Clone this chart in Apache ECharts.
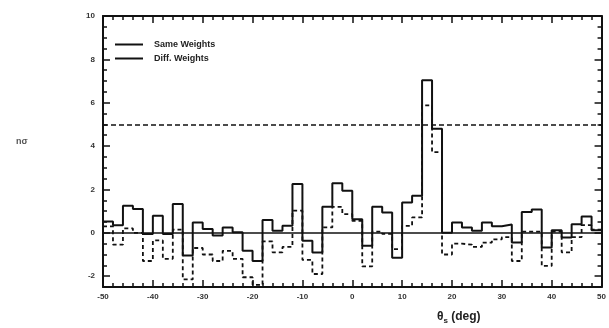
<!DOCTYPE html>
<html>
<head>
<meta charset="utf-8">
<script src="https://cdn.jsdelivr.net/npm/echarts@6/dist/echarts.min.js"></script>
<style>
  html, body { margin: 0; padding: 0; background: #fff; }
  #chart { width: 609px; height: 328px; }
</style>
</head>
<body>
<div id="chart"></div>
<script>
// Left edges of the 2-degree bins, plus the final right edge
const binEdges = [
  -50, -48, -46, -44, -42, -40, -38, -36, -34, -32,
  -30, -28, -26, -24, -22, -20, -18, -16, -14, -12,
  -10, -8, -6, -4, -2, 0, 2, 4, 6, 8,
  10, 12, 14, 16, 18, 20, 22, 24, 26, 28,
  30, 32, 34, 36, 38, 40, 42, 44, 46, 48,
  50
];

// Significance per bin, same weights
const sameWeights = [
  0.52, 0.35, 1.25, 1.10, -0.05, 0.79, -0.05, 1.33, -1.05, 0.48,
  0.18, -0.12, 0.25, 0.02, -0.83, -1.30, 0.59, 0.09, 0.32, 2.25,
  -0.37, -0.91, 1.20, 2.28, 1.94, 0.63, -0.60, 1.20, 0.94, -1.15,
  1.40, 1.71, 7.04, 4.80, 0.00, 0.48, 0.25, 0.10, 0.48, 0.30,
  0.38, -0.45, 0.96, 1.08, -0.68, 0.12, -0.22, 0.40, 0.75, 0.12
];

// Significance per bin, different weights
const diffWeights = [
  0.30, -0.55, 0.20, 0.00, -1.30, -0.35, -1.20, 0.15, -2.15, -0.70,
  -1.00, -1.30, -0.83, -1.20, -2.05, -2.40, -0.40, -0.90, -0.65, 1.02,
  -1.25, -1.90, 0.25, 1.20, 0.86, 0.55, -1.55, 0.05, -0.05, -0.75,
  0.32, 0.71, 5.88, 3.72, -1.00, -0.50, -0.55, -0.65, -0.45, -0.30,
  -0.20, -1.30, 0.05, 0.05, -1.53, 0.05, -0.90, -0.20, 0.35, 0.15
];

const seriesNames = ['Same Weights', 'Diff. Weights'];
const yMajorTicks = [-2, 0, 2, 4, 6, 8, 10];
const referenceLevels = [0, 5];

// step 'end': each bin's value is held from its left edge to the next edge
function toSteps(values) {
  const pts = values.map((v, i) => [binEdges[i], v]);
  pts.push([binEdges[binEdges.length - 1], values[values.length - 1]]);
  return pts;
}

const FONT = 'Liberation Sans, Arial, sans-serif';
const INK = '#111';

const xBase = {
  type: 'value', min: -50, max: 50, interval: 10,
  axisLine: { show: true, onZero: false, lineStyle: { color: INK, width: 2 } },
  axisTick: { show: true, inside: true, length: 7, lineStyle: { color: INK, width: 1.5 } },
  minorTick: { show: true, splitNumber: 5, length: 4, lineStyle: { color: INK, width: 1.5 } },
  splitLine: { show: false },
  minorSplitLine: { show: false }
};

const yMajor = (pos, labels) => ({
  type: 'value', min: -2.5, max: 10, position: pos,
  axisLine: { show: true, onZero: false, lineStyle: { color: INK, width: 2 } },
  axisTick: { show: true, inside: true, length: 7, customValues: yMajorTicks,
              lineStyle: { color: INK, width: 1.5 } },
  axisLabel: { show: labels, customValues: yMajorTicks, margin: 8,
               fontSize: 8, fontWeight: 'bold', color: '#333', fontFamily: FONT },
  splitLine: { show: false }
});

const yMinor = (pos) => ({
  type: 'value', min: -2.5, max: 10, interval: 0.5, position: pos,
  axisLine: { show: false, onZero: false },
  axisTick: { show: true, inside: true, length: 4, lineStyle: { color: INK, width: 1.5 } },
  axisLabel: { show: false },
  splitLine: { show: false }
});

const chart = echarts.init(document.getElementById('chart'), null, { renderer: 'canvas' });

chart.setOption({
  animation: false,
  backgroundColor: '#fff',
  grid: { left: 103, top: 16, width: 500, height: 271, containLabel: false },
  xAxis: [
    Object.assign({}, xBase, {
      position: 'bottom',
      axisLabel: { show: true, margin: 6, fontSize: 8, fontWeight: 'bold', color: '#333', fontFamily: FONT }
    }),
    Object.assign({}, xBase, { position: 'top', axisLabel: { show: false } })
  ],
  yAxis: [yMajor('left', true), yMinor('left'), yMajor('right', false), yMinor('right')],
  legend: {
    orient: 'vertical', left: 110, top: 35,
    icon: 'rect', itemWidth: 28, itemHeight: 2, itemGap: 5,
    textStyle: { fontSize: 9, fontWeight: 'bold', color: '#222', fontFamily: FONT, padding: [0, 0, 0, 6] },
    data: seriesNames
  },
  series: [
    {
      name: seriesNames[0], type: 'line', step: 'end',
      xAxisIndex: 0, yAxisIndex: 0,
      data: toSteps(sameWeights), showSymbol: false, symbol: 'none',
      color: INK,
      lineStyle: { color: INK, width: 2 },
      z: 3,
      markLine: {
        silent: true, symbol: 'none', label: { show: false },
        data: [
          { yAxis: referenceLevels[0], lineStyle: { type: 'solid', color: INK, width: 1.5 } },
          { yAxis: referenceLevels[1], lineStyle: { type: [5, 3], color: INK, width: 1.5 } }
        ]
      }
    },
    {
      name: seriesNames[1], type: 'line', step: 'end',
      xAxisIndex: 0, yAxisIndex: 0,
      data: toSteps(diffWeights), showSymbol: false, symbol: 'none',
      color: INK,
      lineStyle: { color: INK, width: 1.8, type: [4, 3] },
      z: 2
    }
  ],
  graphic: [
    {
      type: 'text', left: 437, top: 311,
      style: {
        text: 'θ{sub|s} (deg)',
        rich: {
          sub: { fontSize: 8, fontWeight: 'bold', verticalAlign: 'bottom', padding: [7, 0, 0, 0], fill: '#222', fontFamily: FONT }
        },
        fontSize: 12, fontWeight: 'bold', fill: '#222', fontFamily: FONT
      }
    },
    {
      type: 'text', left: 16, top: 137,
      style: { text: 'nσ', fontSize: 9, fontWeight: 'bold', fill: '#555', fontFamily: FONT }
    }
  ]
});
</script>
</body>
</html>
